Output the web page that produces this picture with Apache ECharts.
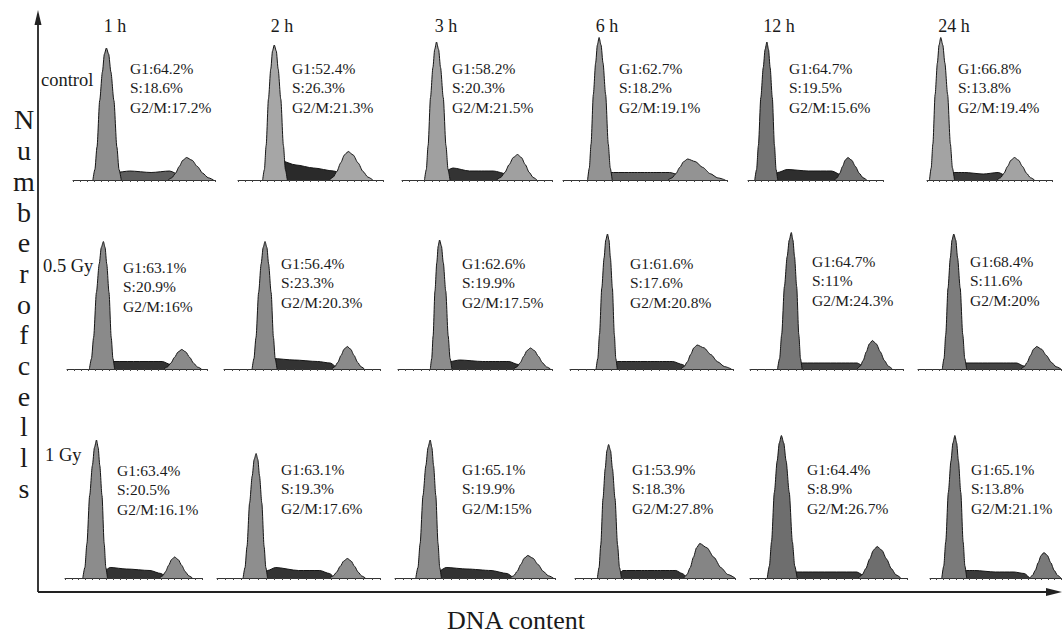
<!DOCTYPE html>
<html>
<head>
<meta charset="utf-8">
<script src="https://cdn.jsdelivr.net/npm/echarts@6/dist/echarts.min.js"></script>
<style>
html,body{margin:0;padding:0;background:#fff;}
#chart{width:1062px;height:636px;}
</style>
</head>
<body>
<div id="chart"></div>
<script>
// ---------------- data ----------------
const times = ['1 h', '2 h', '3 h', '6 h', '12 h', '24 h'];
const doses = ['control', '0.5 Gy', '1 Gy'];
const yTitleChars = ['N','u','m','b','e','r','o','f','c','e','l','l','s'];
const xTitle = 'DNA content';

const g1Pct = [[64.2, 52.4, 58.2, 62.7, 64.7, 66.8],
               [63.1, 56.4, 62.6, 61.6, 64.7, 68.4],
               [63.4, 63.1, 65.1, 53.9, 64.4, 65.1]];
const sPct  = [[18.6, 26.3, 20.3, 18.2, 19.5, 13.8],
               [20.9, 23.3, 19.9, 17.6, 11, 11.6],
               [20.5, 19.3, 19.9, 18.3, 8.9, 13.8]];
const g2Pct = [[17.2, 21.3, 21.5, 19.1, 15.6, 19.4],
               [16, 20.3, 17.5, 20.8, 24.3, 20],
               [16.1, 17.6, 15, 27.8, 26.7, 21.1]];

// histogram components: [DNA channel (0-100 of panel), relative cell count]
const ctrlG1 = [
  [[14,0],[15.4,7],[16.9,22],[18.8,53],[20.7,72],[22.1,84],[23.5,88],[25.1,84],[26.7,72],[28.8,53],[30.9,22],[32.4,7],[34,0]],
  [[17,0],[18.2,7],[19.4,23],[21,54],[22.6,74],[23.8,86],[25,90],[26.4,86],[27.7,74],[29.5,54],[31.3,23],[32.7,7],[34,0]],
  [[15,0],[16.2,7],[17.4,23],[19,55],[20.6,75],[21.8,87],[23,92],[24.4,87],[25.7,75],[27.5,55],[29.3,23],[30.7,7],[32,0]],
  [[15,0],[16.05,8],[17.1,24],[18.5,57],[19.9,78],[20.95,90],[22,95],[23.2,90],[24.4,78],[26,57],[27.6,24],[28.8,8],[30,0]],
  [[5,0],[6.35,7],[7.7,23],[9.5,55],[11.3,75],[12.65,87],[14,92],[15.2,87],[16.4,75],[18,55],[19.6,23],[20.8,7],[22,0]],
  [[2,0],[3.35,8],[4.7,24],[6.5,57],[8.3,78],[9.65,90],[11,95],[12.65,90],[14.3,78],[16.5,57],[18.7,24],[20.35,8],[22,0]]
];
const ctrlS = [
  [[26,0],[30,5],[40,6],[55,5],[68,6],[76,3],[80,0]],
  [[20,0],[24,8],[29,13],[40,10],[52,8],[66,6],[75,3],[79,0]],
  [[22,0],[27,5],[34,8],[45,6],[61,6],[70,4],[76,0]],
  [[24,0],[28,5],[40,5],[55,5],[65,5],[72,3],[77,0]],
  [[17,0],[22,5],[29,7],[45,6],[62,6],[70,3],[74,0]],
  [[15,0],[20,5],[30,5],[45,4],[57,5],[63,3],[67,0]]
];
const ctrlG2 = [
  [[67,0],[69.6,1.5],[72.2,4.5],[74.8,9],[77.4,13.2],[80,15],[83.8,13.2],[87.6,9],[91.4,4.5],[95.2,1.5],[99,0]],
  [[63,0],[65.6,1.9],[68.2,5.7],[70.8,11.4],[73.4,16.7],[76,19],[79.4,16.7],[82.8,11.4],[86.2,5.7],[89.6,1.9],[93,0]],
  [[63,0],[65.8,1.7],[68.6,5.1],[71.4,10.2],[74.2,15],[77,17],[79.6,15],[82.2,10.2],[84.8,5.1],[87.4,1.7],[90,0]],
  [[64,0],[66.4,1.4],[68.8,4.2],[71.2,8.4],[73.6,12.3],[76,14],[80.6,12.3],[85.2,8.4],[89.8,4.2],[94.4,1.4],[99,0]],
  [[64,0],[66,1.5],[68,4.5],[70,9],[72,13.2],[74,15],[76.8,13.2],[79.6,9],[82.4,4.5],[85.2,1.5],[88,0]],
  [[56,0],[58.8,1.5],[61.6,4.5],[64.4,9],[67.2,13.2],[70,15],[73.2,13.2],[76.4,9],[79.6,4.5],[82.8,1.5],[86,0]]
];
const gy05G1 = [
  [[16,0],[17.5,7],[19,21],[21,51],[23,70],[24.5,81],[26,85],[27.2,81],[28.4,70],[30,51],[31.6,21],[32.8,7],[34,0]],
  [[18,0],[19.2,7],[20.5,21],[22.2,51],[23.8,70],[25.1,81],[26.3,85],[27.5,81],[28.6,70],[30.2,51],[31.7,21],[32.8,7],[34,0]],
  [[21,0],[21.9,7],[22.8,22],[24,52],[25.2,71],[26.1,82],[27,86],[28.2,82],[29.4,71],[31,52],[32.6,22],[33.8,7],[35,0]],
  [[16,0],[17.05,7],[18.1,23],[19.5,54],[20.9,74],[21.95,86],[23,90],[23.9,86],[24.8,74],[26,54],[27.2,23],[28.1,7],[29,0]],
  [[18,0],[19.35,7],[20.7,23],[22.5,55],[24.3,75],[25.65,86],[27,91],[28.05,86],[29.1,75],[30.5,55],[31.9,23],[33,7],[34,0]],
  [[17,0],[18.2,7],[19.4,23],[21,54],[22.6,74],[23.8,86],[25,90],[26.4,86],[27.7,74],[29.5,54],[31.3,23],[32.7,7],[34,0]]
];
const gy05S = [
  [[26,0],[30,5],[40,5],[55,5],[68,5],[74,3],[78,0]],
  [[24,0],[28,5],[31,7],[45,6],[60,5],[68,4],[73,0]],
  [[29,0],[34,5],[40,6],[55,5],[72,5],[78,3],[81,0]],
  [[25,0],[29,5],[40,5],[55,5],[63,5],[69,3],[72,0]],
  [[26,0],[30,4],[45,4],[60,4],[70,4],[74,2],[77,0]],
  [[28,0],[32,4],[45,4],[60,4],[69,4],[74,2],[77,0]]
];
const gy05G2 = [
  [[69,0],[71.6,1.3],[74.2,3.9],[76.8,7.8],[79.4,11.4],[82,13],[84.8,11.4],[87.6,7.8],[90.4,3.9],[93.2,1.3],[96,0]],
  [[69,0],[71,1.5],[73,4.5],[75,9],[77,13.2],[79,15],[81.2,13.2],[83.4,9],[85.6,4.5],[87.8,1.5],[90,0]],
  [[75,0],[77.2,1.4],[79.4,4.2],[81.6,8.4],[83.8,12.3],[86,14],[88.6,12.3],[91.2,8.4],[93.8,4.2],[96.4,1.4],[99,0]],
  [[68,0],[70,1.6],[72,4.8],[74,9.6],[76,14.1],[78,16],[82.2,14.1],[86.4,9.6],[90.6,4.8],[94.8,1.6],[99,0]],
  [[70,0],[72,1.9],[74,5.7],[76,11.4],[78,16.7],[80,19],[82.6,16.7],[85.2,11.4],[87.8,5.7],[90.4,1.9],[93,0]],
  [[72,0],[74.2,1.5],[76.4,4.5],[78.6,9],[80.8,13.2],[83,15],[86.4,13.2],[89.8,9],[93.2,4.5],[96.6,1.5],[100,0]]
];
const gy1G1 = [
  [[13,0],[14.5,7],[16,23],[18,55],[20,75],[21.5,87],[23,92],[24.2,87],[25.4,75],[27,55],[28.6,23],[29.8,7],[31,0]],
  [[16,0],[17.2,7],[18.4,21],[20,50],[21.6,68],[22.8,79],[24,83],[25.05,79],[26.1,68],[27.5,50],[28.9,21],[29.95,7],[31,0]],
  [[13,0],[14.35,7],[15.7,23],[17.5,55],[19.3,75],[20.65,87],[22,92],[23.05,87],[24.1,75],[25.5,55],[26.9,23],[27.95,7],[29,0]],
  [[14,0],[15.05,7],[16.1,22],[17.5,53],[18.9,73],[19.95,85],[21,89],[22.2,85],[23.4,73],[25,53],[26.6,22],[27.8,7],[29,0]],
  [[11,0],[12.35,8],[13.7,24],[15.5,57],[17.3,78],[18.65,90],[20,95],[21.5,90],[23,78],[25,57],[27,24],[28.5,8],[30,0]],
  [[9,0],[10.5,8],[12,24],[14,57],[16,78],[17.5,90],[19,95],[20.35,90],[21.7,78],[23.5,57],[25.3,24],[26.65,8],[28,0]]
];
const gy1S = [
  [[25,0],[29,5],[33,7],[45,6],[62,5],[70,3],[74,0]],
  [[27,0],[31,5],[36,7],[50,5],[63,5],[69,3],[72,0]],
  [[23,0],[28,5],[32,7],[45,6],[60,5],[70,3],[74,0]],
  [[26,0],[30,5],[40,5],[55,5],[63,5],[67,3],[70,0]],
  [[23,0],[27,4],[40,4],[55,4],[68,4],[72,2],[75,0]],
  [[22,0],[26,5],[34,5],[50,4],[64,4],[72,3],[76,0]]
];
const gy1G2 = [
  [[69,0],[71.2,1.4],[73.4,4.2],[75.6,8.4],[77.8,12.3],[80,14],[82.6,12.3],[85.2,8.4],[87.8,4.2],[90.4,1.4],[93,0]],
  [[69,0],[71.2,1.3],[73.4,3.9],[75.6,7.8],[77.8,11.4],[80,13],[82.2,11.4],[84.4,7.8],[86.6,3.9],[88.8,1.3],[91,0]],
  [[72,0],[74.2,1.5],[76.4,4.5],[78.6,9],[80.8,13.2],[83,15],[86.2,13.2],[89.4,9],[92.6,4.5],[95.8,1.5],[99,0]],
  [[68,0],[70,2.3],[72,6.9],[74,13.8],[76,20.2],[78,23],[82.4,20.2],[86.8,13.8],[91.2,6.9],[95.6,2.3],[100,0]],
  [[69,0],[71.4,2.1],[73.8,6.3],[76.2,12.6],[78.6,18.5],[81,21],[84,18.5],[87,12.6],[90,6.3],[93,2.1],[96,0]],
  [[76,0],[78.2,1.7],[80.4,5.1],[82.6,10.2],[84.8,15],[87,17],[89.6,15],[92.2,10.2],[94.8,5.1],[97.4,1.7],[100,0]]
];

// ---------------- layout & style ----------------
const baseY = [180, 369, 578];
const panelH = 150;
const panelL = [[73, 238, 402, 563, 748, 927],
                [67, 224, 398, 570, 750, 918],
                [65, 217, 395, 575, 750, 930]];
const panelR = [[215, 383, 552, 727, 883, 1052],
                [207, 380, 552, 733, 903, 1061],
                [202, 380, 555, 735, 907, 1061]];
const textX = [[130, 292, 452, 619, 789, 958],
               [123, 281, 462, 630, 812, 970],
               [117, 281, 462, 632, 807, 971]];
const textY = [[68, 68, 68, 68, 68, 68],
               [267, 263, 263, 263, 261, 261],
               [470, 469, 469, 469, 469, 469]];
const timeX = [115, 282, 446, 607, 779, 954];
const doseX = [41, 43, 45];
const doseY = [80, 266, 455];
const g1Fill = [['#8e8e8e','#a6a6a6','#a0a0a0','#939393','#737373','#a3a3a3'],
                ['#8a8a8a','#8a8a8a','#8c8c8c','#8a8a8a','#767676','#7c7c7c'],
                ['#8c8c8c','#8e8e8e','#8c8c8c','#858585','#6e6e6e','#7a7a7a']];
const sFill = [['#5e5e5e','#2a2a2a','#333333','#616161','#2e2e2e','#3a3a3a'],
               ['#333333','#333333','#333333','#3a3a3a','#444444','#444444'],
               ['#333333','#333333','#333333','#333333','#3a3a3a','#3a3a3a']];

const G1s = [ctrlG1, gy05G1, gy1G1];
const Ss = [ctrlS, gy05S, gy1S];
const G2s = [ctrlG2, gy05G2, gy1G2];

const serif = '"Liberation Serif", "Times New Roman", Times, serif';
const grids = [], xAxes = [], yAxes = [], series = [], graphics = [];

for (let r = 0; r < 3; r++) {
  for (let c = 0; c < 6; c++) {
    const i = r * 6 + c;
    grids.push({ left: panelL[r][c], top: baseY[r] - panelH, width: panelR[r][c] - panelL[r][c], height: panelH });
    xAxes.push({
      gridIndex: i, type: 'value', min: 0, max: 100, interval: 5,
      axisLine: { show: true, onZero: false, lineStyle: { color: '#333', width: 1 } },
      axisTick: { show: true, length: 2, lineStyle: { color: '#444', width: 1 } },
      axisLabel: { show: false }, splitLine: { show: false }
    });
    yAxes.push({ gridIndex: i, type: 'value', min: 0, max: 100, show: false });
    const common = {
      type: 'line', xAxisIndex: i, yAxisIndex: i, symbol: 'none', smooth: 0.25,
      smoothMonotone: 'x', silent: true,
      lineStyle: { color: '#151515', width: 1 }
    };
    series.push(Object.assign({}, common, { name: 'S', data: Ss[r][c], z: 2, areaStyle: { color: sFill[r][c], opacity: 1 } }));
    series.push(Object.assign({}, common, { name: 'G1', data: G1s[r][c], z: 3, areaStyle: { color: g1Fill[r][c], opacity: 1 } }));
    series.push(Object.assign({}, common, { name: 'G2/M', data: G2s[r][c], z: 3, areaStyle: { color: g1Fill[r][c], opacity: 1 } }));

    const lines = ['G1:' + g1Pct[r][c] + '%', 'S:' + sPct[r][c] + '%', 'G2/M:' + g2Pct[r][c] + '%'];
    lines.forEach((t, k) => {
      graphics.push({ type: 'text', x: textX[r][c], y: textY[r][c] + k * 19.5, z: 10,
        style: { text: t, font: '15.5px ' + serif, fill: '#1a1a1a', align: 'left', verticalAlign: 'middle', textAlign: 'left', textVerticalAlign: 'middle' } });
    });
  }
}

times.forEach((t, c) => {
  graphics.push({ type: 'text', x: timeX[c], y: 26, z: 10,
    style: { text: t, font: '18px ' + serif, fill: '#1a1a1a', align: 'center', verticalAlign: 'middle', textAlign: 'center', textVerticalAlign: 'middle' } });
});
doses.forEach((d, r) => {
  graphics.push({ type: 'text', x: doseX[r], y: doseY[r], z: 10,
    style: { text: d, font: '18.5px ' + serif, fill: '#1a1a1a', align: 'left', verticalAlign: 'middle', textAlign: 'left', textVerticalAlign: 'middle' } });
});
// vertical axis title: one letter per line
graphics.push({ type: 'text', x: 24, y: 104.6, z: 10,
  style: { text: yTitleChars.join('\n'), font: '28px ' + serif, lineHeight: 30.7, fill: '#1a1a1a',
    align: 'center', verticalAlign: 'top', textAlign: 'center', textVerticalAlign: 'top' } });
graphics.push({ type: 'text', x: 516, y: 620, z: 10,
  style: { text: xTitle, font: '26px ' + serif, fill: '#1a1a1a', align: 'center', verticalAlign: 'middle', textAlign: 'center', textVerticalAlign: 'middle' } });

// main axes with arrows
graphics.push({ type: 'line', z: 10, shape: { x1: 38, y1: 592, x2: 38, y2: 20 }, style: { stroke: '#222', lineWidth: 1.8 } });
graphics.push({ type: 'polygon', z: 10, shape: { points: [[38, 10], [34.5, 25], [41.5, 25]] }, style: { fill: '#222' } });
graphics.push({ type: 'line', z: 10, shape: { x1: 38, y1: 592, x2: 1050, y2: 592 }, style: { stroke: '#222', lineWidth: 1.8 } });
graphics.push({ type: 'polygon', z: 10, shape: { points: [[1062, 592], [1046, 588], [1046, 596]] }, style: { fill: '#222' } });

const chart = echarts.init(document.getElementById('chart'), null, { renderer: 'svg' });
chart.setOption({
  animation: false,
  backgroundColor: '#ffffff',
  grid: grids, xAxis: xAxes, yAxis: yAxes, series: series,
  graphic: graphics
});
</script>
</body>
</html>
